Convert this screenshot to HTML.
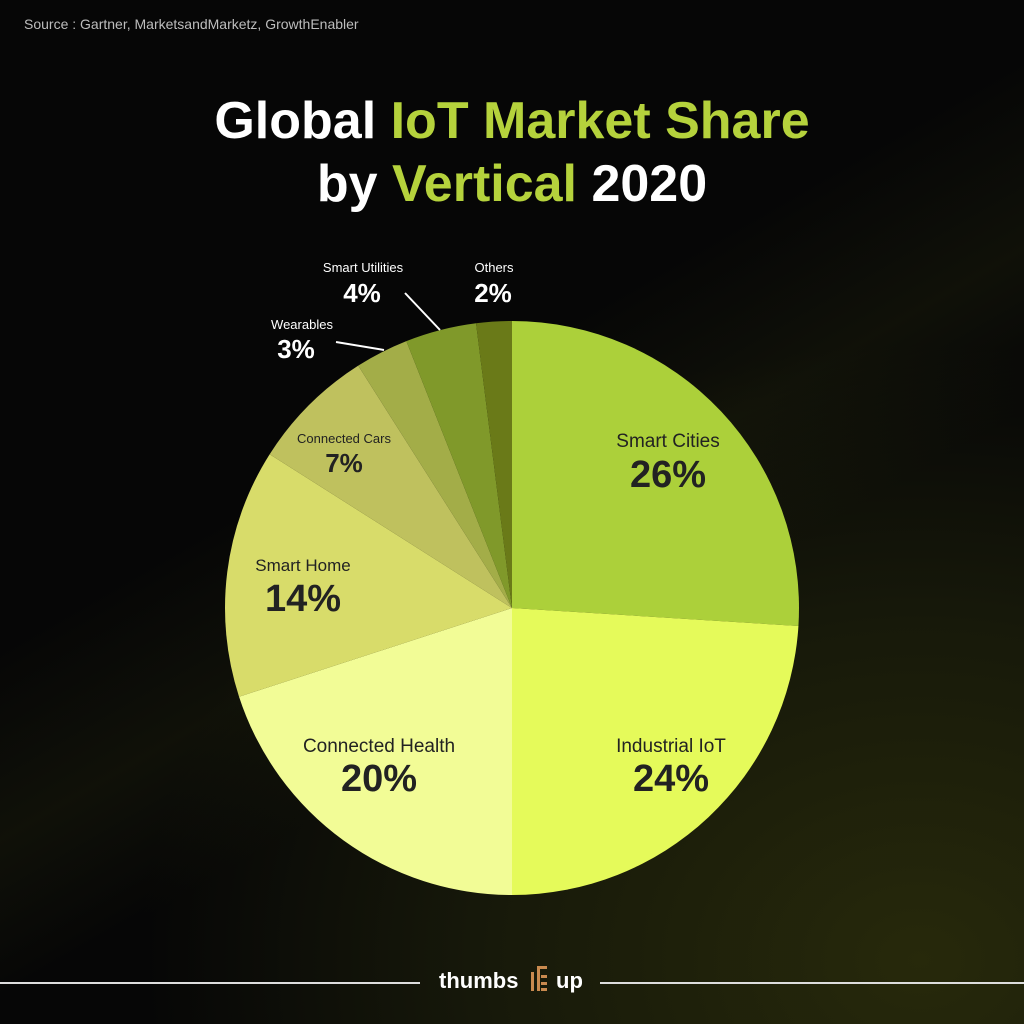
<!DOCTYPE html>
<html><head><meta charset="utf-8"><style>
html,body{margin:0;padding:0;}
body{width:1024px;height:1024px;overflow:hidden;position:relative;font-family:"Liberation Sans",sans-serif;
background:linear-gradient(150deg,rgba(0,0,0,0) 40%,rgba(60,66,20,0.18) 52%,rgba(0,0,0,0) 62%),radial-gradient(ellipse 950px 750px at 920px 960px,#27290b 0%,#17190a 45%,#060606 82%),#050505;}
.t{position:absolute;white-space:nowrap;}
</style></head><body>
<div class="t" style="left:24px;top:16px;font-size:14px;color:#bdbdbd;">Source : Gartner, MarketsandMarketz, GrowthEnabler</div>
<div class="t" style="left:0;width:1024px;text-align:center;top:90px;font-size:52px;font-weight:bold;color:#fff;line-height:63px;">Global <span style="color:#b5d23c">IoT Market Share</span><br>by <span style="color:#b5d23c">Vertical</span> 2020</div>
<svg id="s" width="1024" height="1024" style="position:absolute;left:0;top:0">
<g id="p"></g>
<line x1="336" y1="342" x2="384" y2="350" stroke="#fff" stroke-width="2"/>
<line x1="405" y1="293" x2="440" y2="330" stroke="#fff" stroke-width="2"/>
<line x1="0" y1="983" x2="420" y2="983" stroke="#ddd" stroke-width="2"/>
<line x1="600" y1="983" x2="1024" y2="983" stroke="#ddd" stroke-width="2"/>
<g fill="#c98a4f"><rect x="531" y="972" width="3" height="19"/><rect x="537" y="966" width="3" height="25"/><rect x="537" y="966" width="10" height="3"/><rect x="541" y="975" width="6" height="3"/><rect x="541" y="982" width="6" height="3"/><rect x="541" y="988" width="6" height="3"/></g>
</svg>
<script>
var cx=512,cy=608,r=287,vals=[26,24,20,14,7,3,4,2],
cols=["#acd03a","#e5fa5a","#f2fc96","#d8dc6a","#bfc15e","#a3ad48","#80992a","#6a7a18"],c=0,h="";
for(var i=0;i<vals.length;i++){var a0=c/100*2*Math.PI;c+=vals[i];var a1=c/100*2*Math.PI;
var x0=cx+r*Math.sin(a0),y0=cy-r*Math.cos(a0),x1=cx+r*Math.sin(a1),y1=cy-r*Math.cos(a1);
h+='<path d="M'+cx+' '+cy+'L'+x0+' '+y0+'A'+r+' '+r+' 0 '+(vals[i]>50?1:0)+' 1 '+x1+' '+y1+'Z" fill="'+cols[i]+'"/>';}
document.getElementById("p").innerHTML=h;
</script>
<div class="t" style="left:668px;transform:translateX(-50%);top:431px;font-size:19px;color:#222;">Smart Cities</div>
<div class="t" style="left:668px;transform:translateX(-50%);top:454px;font-size:38px;font-weight:bold;color:#222;">26%</div>
<div class="t" style="left:671px;transform:translateX(-50%);top:736px;font-size:19px;color:#222;">Industrial IoT</div>
<div class="t" style="left:671px;transform:translateX(-50%);top:758px;font-size:38px;font-weight:bold;color:#222;">24%</div>
<div class="t" style="left:379px;transform:translateX(-50%);top:736px;font-size:19px;color:#222;">Connected Health</div>
<div class="t" style="left:379px;transform:translateX(-50%);top:758px;font-size:38px;font-weight:bold;color:#222;">20%</div>
<div class="t" style="left:303px;transform:translateX(-50%);top:556px;font-size:17px;color:#222;">Smart Home</div>
<div class="t" style="left:303px;transform:translateX(-50%);top:578px;font-size:38px;font-weight:bold;color:#222;">14%</div>
<div class="t" style="left:344px;transform:translateX(-50%);top:431px;font-size:13px;color:#222;">Connected Cars</div>
<div class="t" style="left:344px;transform:translateX(-50%);top:448px;font-size:26px;font-weight:bold;color:#222;">7%</div>
<div class="t" style="left:302px;transform:translateX(-50%);top:317px;font-size:13px;color:#fff;">Wearables</div>
<div class="t" style="left:296px;transform:translateX(-50%);top:334px;font-size:26px;font-weight:bold;color:#fff;">3%</div>
<div class="t" style="left:363px;transform:translateX(-50%);top:260px;font-size:13px;color:#fff;">Smart Utilities</div>
<div class="t" style="left:362px;transform:translateX(-50%);top:278px;font-size:26px;font-weight:bold;color:#fff;">4%</div>
<div class="t" style="left:494px;transform:translateX(-50%);top:260px;font-size:13px;color:#fff;">Others</div>
<div class="t" style="left:493px;transform:translateX(-50%);top:278px;font-size:26px;font-weight:bold;color:#fff;">2%</div>
<div class="t" style="left:439px;top:968px;font-size:22px;font-weight:bold;color:#fff;">thumbs</div>
<div class="t" style="left:556px;top:968px;font-size:22px;font-weight:bold;color:#fff;">up</div>
</body></html>
